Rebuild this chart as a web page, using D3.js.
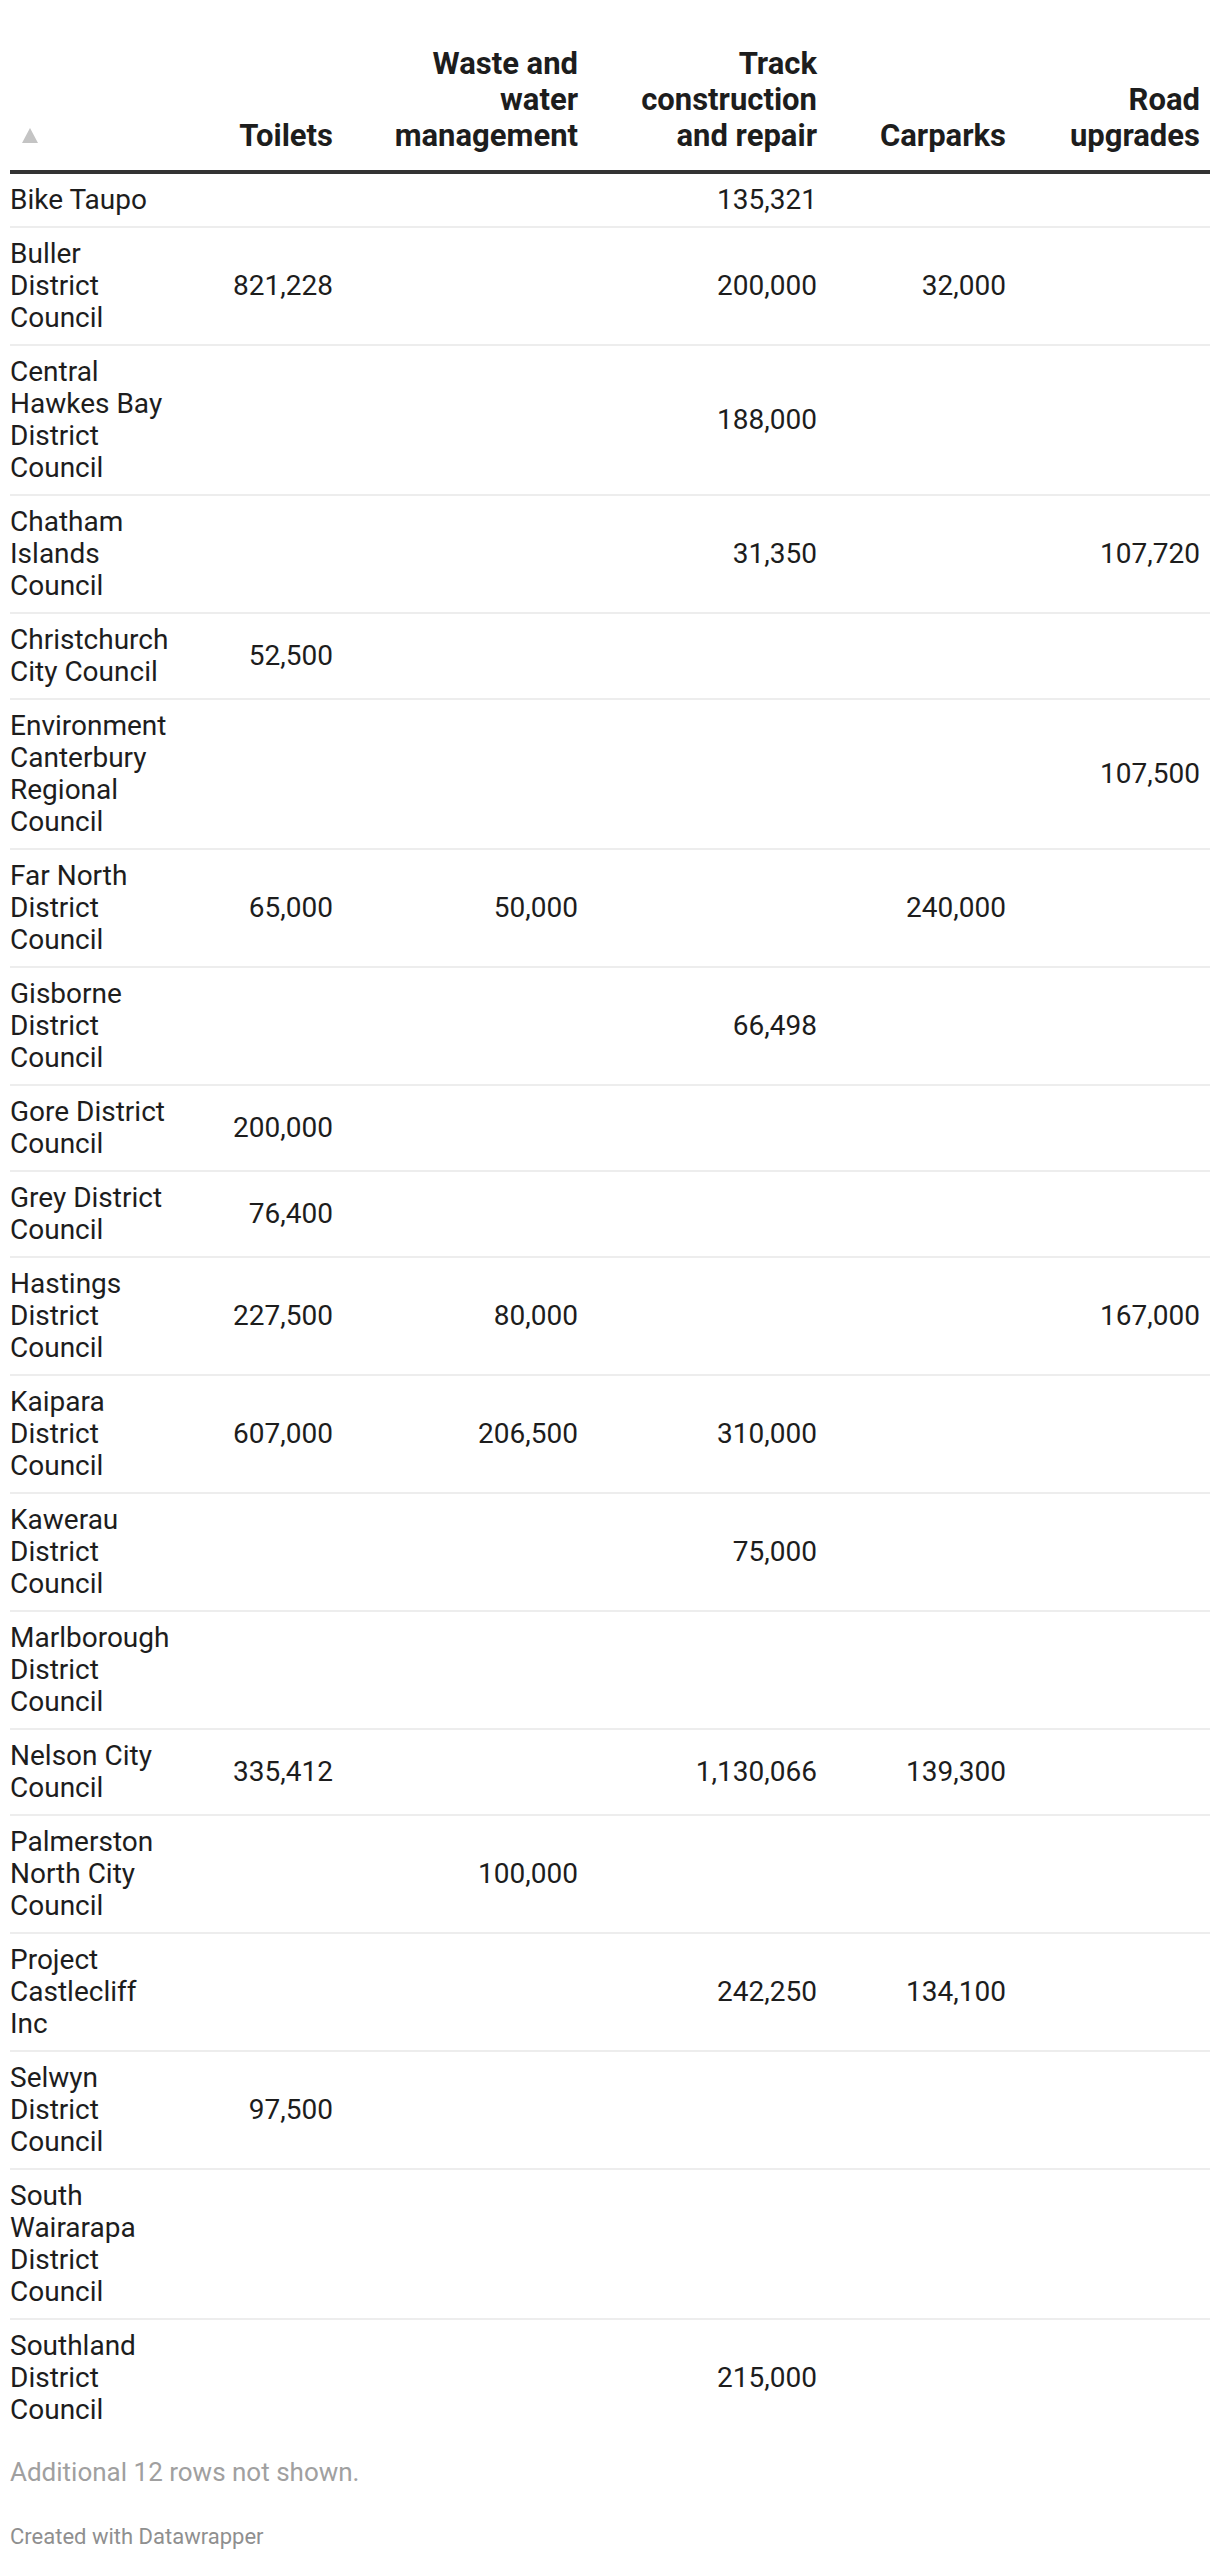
<!DOCTYPE html>
<html lang="en">
<head>
  <meta charset="UTF-8">
  <title>Council funding by category</title>
  <style>
    body {
      margin: 0;
      background: #fff;
      font-family: Roboto, "Noto Sans", Arial, sans-serif;
      color: #1d1d1d;
    }

    #wrap {
      padding: 36px 10px 0 10px;
      width: 1200px;
    }

    .row {
      display: grid;
      grid-template-columns: 180px 143px 245px 239px 189px 194px;
      padding-right: 10px;
    }

    .head {
      align-items: end;
      padding: 10px 10px 16px 0;
      border-bottom: 4px solid #333;
      font-weight: 700;
      font-size: 31px;
      line-height: 36px;
      position: relative;
    }

    .body-row {
      align-items: center;
      padding: 10px 10px 10px 0;
      border-bottom: 2px solid #ededed;
      font-size: 28px;
      line-height: 32px;
    }

    .body-row:last-child {
      border-bottom: none;
    }

    .cell { box-sizing: border-box; }
    .name { padding-right: 18px; text-align: left; }
    .num { text-align: right; }

    /* sort arrow in the first header cell */
    .sort-arrow {
      position: absolute;
      left: 12px;
      bottom: 27px;
      width: 0;
      height: 0;
      border-left: 8px solid transparent;
      border-right: 8px solid transparent;
      border-bottom: 15px solid #c4c4c4;
    }

    .notes {
      margin-top: 21px;
      font-size: 26px;
      line-height: 30px;
      color: #a0a0a0;
    }

    .credit {
      margin-top: 37px;
      font-size: 22px;
      line-height: 26px;
      color: #8f8f8f;
    }
  </style>
</head>
<body>
  <div id="wrap">
    <div id="table"></div>
    <div class="notes">Additional 12 rows not shown.</div>
    <div class="credit">Created with Datawrapper</div>
  </div>

  <script src="https://d3js.org/d3.v7.min.js"></script>
  <script>
    // Row labels
    const councils = [
      "Bike Taupo",
      "Buller District Council",
      "Central Hawkes Bay District Council",
      "Chatham Islands Council",
      "Christchurch City Council",
      "Environment Canterbury Regional Council",
      "Far North District Council",
      "Gisborne District Council",
      "Gore District Council",
      "Grey District Council",
      "Hastings District Council",
      "Kaipara District Council",
      "Kawerau District Council",
      "Marlborough District Council",
      "Nelson City Council",
      "Palmerston North City Council",
      "Project Castlecliff Inc",
      "Selwyn District Council",
      "South Wairarapa District Council",
      "Southland District Council"
    ];

    // Column headers
    const columnLabels = [
      "Toilets",
      "Waste and water management",
      "Track construction and repair",
      "Carparks",
      "Road upgrades"
    ];

    // Values per column, same order as councils (null = empty cell)
    const toilets = [null, 821228, null, null, 52500, null, 65000, null, 200000, 76400,
                     227500, 607000, null, null, 335412, null, null, 97500, null, null];
    const waste = [null, null, null, null, null, null, 50000, null, null, null,
                   80000, 206500, null, null, null, 100000, null, null, null, null];
    const track = [135321, 200000, 188000, 31350, null, null, null, 66498, null, null,
                   null, 310000, 75000, null, 1130066, null, 242250, null, null, 215000];
    const carparks = [null, 32000, null, null, null, null, 240000, null, null, null,
                      null, null, null, null, 139300, null, 134100, null, null, null];
    const roadUpgrades = [null, null, null, 107720, null, 107500, null, null, null, null,
                          167000, null, null, null, null, null, null, null, null, null];

    const series = [toilets, waste, track, carparks, roadUpgrades];
    // left padding inside each numeric column, so the headers wrap like the original
    const headPad = [0, 45, 40, 20, 20];

    const fmt = d3.format(",");

    const rows = councils.map((name, i) => ({
      name: name,
      values: series.map(s => s[i])
    }));

    const table = d3.select("#table");

    // Header row
    const head = table.append("div").attr("class", "row head");
    head.append("div").attr("class", "cell name")
      .append("span").attr("class", "sort-arrow");
    head.selectAll(".num")
      .data(columnLabels)
      .enter()
      .append("div")
      .attr("class", "cell num")
      .style("padding-left", (d, i) => headPad[i] + "px")
      .text(d => d);

    // Body rows
    const bodyRows = table.selectAll(".body-row")
      .data(rows)
      .enter()
      .append("div")
      .attr("class", "row body-row");

    bodyRows.append("div")
      .attr("class", "cell name")
      .text(d => d.name);

    bodyRows.selectAll(".num")
      .data(d => d.values)
      .enter()
      .append("div")
      .attr("class", "cell num")
      .text(v => v == null ? "" : fmt(v));
  </script>
</body>
</html>
